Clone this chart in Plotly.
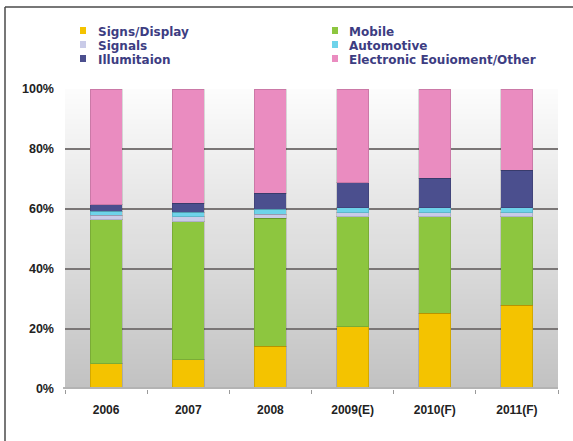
import plotly.graph_objects as go

# Market share by application (percent of total), stacked bottom to top
years = ["2006", "2007", "2008", "2009(E)", "2010(F)", "2011(F)"]
signs_display = [8.5, 9.7, 14.3, 20.7, 25.3, 28.0]
mobile = [48.0, 46.0, 42.7, 36.8, 32.2, 29.5]
signals = [1.5, 1.8, 1.3, 1.3, 1.2, 1.2]
automotive = [1.2, 1.5, 1.7, 1.7, 1.8, 1.8]
illumination = [2.3, 3.0, 5.3, 8.3, 9.8, 12.5]
other = [38.5, 38.0, 34.7, 31.2, 29.7, 27.0]

y_ticks = [0, 20, 40, 60, 80, 100]
y_tick_text = ["0%", "20%", "40%", "60%", "80%", "100%"]

series = [
    ("Signs/Display", signs_display, "#f4c300"),
    ("Mobile", mobile, "#8dc63f"),
    ("Signals", signals, "#c9cbe8"),
    ("Automotive", automotive, "#6ed3ea"),
    ("Illumitaion", illumination, "#4b4f8e"),
    ("Electronic Eouioment/Other", other, "#ea8cc0"),
]

W, H = 573, 441
L, R, T, B = 65, 15, 89, 52
PW, PH = W - L - R, H - T - B


def px_x(x):
    return (x - L) / PW


def px_y(y):
    return (H - B - y) / PH


fig = go.Figure()
for name, vals, color in series:
    fig.add_trace(go.Bar(
        x=years, y=vals, name=name, width=0.39,
        marker=dict(color=color, line=dict(width=1, color="rgba(0,0,0,0.13)")),
        showlegend=False,
    ))

shapes = []
# vertical grey gradient behind the bars
n_bands = 60
top_c, bot_c = (252, 252, 252), (194, 194, 194)
for i in range(n_bands):
    t = i / (n_bands - 1)
    c = tuple(round(bot_c[k] + (top_c[k] - bot_c[k]) * t) for k in range(3))
    shapes.append(dict(
        type="rect", xref="paper", yref="y", layer="below",
        x0=0, x1=1, y0=100 * i / n_bands, y1=100 * (i + 1) / n_bands,
        fillcolor="rgb(%d,%d,%d)" % c, line=dict(width=0),
    ))
# floor line
shapes.append(dict(type="line", xref="paper", yref="y", x0=-0.004, x1=1, y0=0, y1=0,
                   line=dict(color="#b3b3b3", width=4), layer="above"))
# outer frame (left and top edges)
shapes.append(dict(type="line", xref="paper", yref="paper",
                   x0=px_x(5), x1=px_x(W + 5), y0=px_y(7), y1=px_y(7),
                   line=dict(color="#4a4a4a", width=1.5)))
shapes.append(dict(type="line", xref="paper", yref="paper",
                   x0=px_x(5), x1=px_x(5), y0=px_y(7), y1=px_y(H + 5),
                   line=dict(color="#4a4a4a", width=1.5)))

# legend in two columns, filled row by row
annotations = []
cols = [(83, 96), (335, 347)]
rows = [32, 46, 60]
for idx, (name, _, color) in enumerate(series):
    mx, tx = cols[idx % 2]
    ry = rows[idx // 2]
    shapes.append(dict(type="rect", xref="paper", yref="paper",
                       x0=px_x(mx - 3), x1=px_x(mx + 3),
                       y0=px_y(ry - 5), y1=px_y(ry + 2),
                       fillcolor=color, line=dict(width=0)))
    annotations.append(dict(xref="paper", yref="paper", x=px_x(tx), y=px_y(ry),
                            text=name, showarrow=False, xanchor="left", yanchor="middle",
                            font=dict(family="DejaVu Sans", size=12,
                                      color="#3d3d82", weight="bold")))

fig.update_layout(
    width=W, height=H,
    margin=dict(l=L, r=R, t=T, b=B),
    paper_bgcolor="white", plot_bgcolor="rgba(0,0,0,0)",
    barmode="stack", bargap=0.61,
    shapes=shapes, annotations=annotations,
    font=dict(family="Liberation Sans, Arial", color="#222222"),
    xaxis=dict(
        range=[-0.5, 5.5], showgrid=False, showline=False, zeroline=False,
        ticks="outside", tickson="boundaries", ticklen=4, tickcolor="#9a9a9a",
        ticklabelstandoff=12,
        tickfont=dict(family="Liberation Sans, Arial", size=12, color="#222222", weight="bold"),
    ),
    yaxis=dict(
        range=[0, 100], tickvals=y_ticks, ticktext=y_tick_text,
        showgrid=True, gridcolor="#7a7676", gridwidth=2, zeroline=False,
        ticks="", ticklabelstandoff=10,
        tickfont=dict(family="Liberation Sans, Arial", size=12.5, color="#222222", weight="bold"),
    ),
)

fig.write_html("out.html")
